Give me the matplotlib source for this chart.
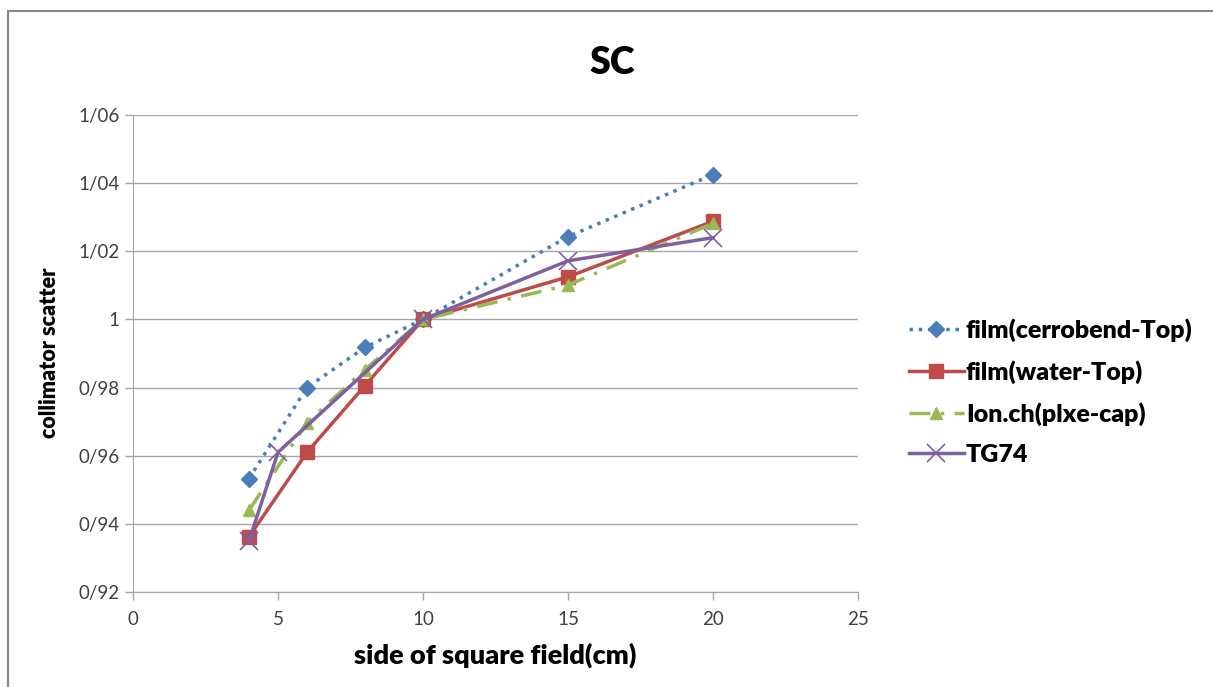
import matplotlib.pyplot as plt
from matplotlib.ticker import FuncFormatter, MultipleLocator
from matplotlib.patches import Rectangle

# data
x_film = [4, 6, 8, 10, 15, 20]
cerrobend = [0.9533, 0.9800, 0.9918, 1.0000, 1.0243, 1.0425]
water = [0.9362, 0.9610, 0.9806, 1.0000, 1.0125, 1.0288]
ionch = [0.9440, 0.9697, 0.9853, 1.0000, 1.0101, 1.0282]
x_tg = [4, 5, 10, 15, 20]
tg74 = [0.9350, 0.9610, 1.0000, 1.0172, 1.0240]

plt.rcParams['font.family'] = ['Lato', 'DejaVu Sans']

fig = plt.figure(figsize=(12.13, 6.87), dpi=100)
ax = fig.add_axes([133/1213, 95/687, 725/1213, 477/687])

# outer chart border
fig.patches.append(Rectangle((8/1213, -0.1), 1.2, (687-11)/687 + 0.1,
                             transform=fig.transFigure, fill=False,
                             edgecolor='#868686', linewidth=1.5))

ax.plot(x_film, cerrobend, color='#4a7ebb', linestyle=':', linewidth=2.5,
        marker='D', markersize=8, label='film(cerrobend-Top)')
ax.plot(x_film, water, color='#be4b48', linestyle='-', linewidth=2.5,
        marker='s', markersize=10, label='film(water-Top)')
ax.plot(x_film, ionch, color='#98b954', linestyle=(0, (6, 3, 1, 3)), linewidth=2.5,
        marker='^', markersize=9, label='Ion.ch(plxe-cap)')
ax.plot(x_tg, tg74, color='#7d60a0', linestyle='-', linewidth=2.5,
        marker='x', markersize=13, markeredgewidth=1.2, label='TG74')

ax.set_xlim(0, 25)
ax.set_ylim(0.92, 1.06)
ax.xaxis.set_major_locator(MultipleLocator(5))
ax.yaxis.set_major_locator(MultipleLocator(0.02))


def fmt(v, pos):
    s = f"{v:.2f}".rstrip('0').rstrip('.')
    return s.replace('.', '/')


ax.yaxis.set_major_formatter(FuncFormatter(fmt))
ax.grid(axis='y', color='#a6a6a6', linewidth=1)
ax.set_axisbelow(True)
for side in ['top', 'right']:
    ax.spines[side].set_visible(False)
for side in ['left', 'bottom']:
    ax.spines[side].set_color('#a6a6a6')
ax.tick_params(colors='#a6a6a6', labelcolor='#404040', labelsize=13.5, length=6, width=1)
ax.tick_params(axis='x', pad=8)

ax.set_xlabel('side of square field(cm)', fontsize=19.5, fontweight='heavy', labelpad=10)
fig.text(50/1213, 1 - 353/687, 'collimator scatter', fontsize=15.5, fontweight='heavy',
         rotation=90, ha='center', va='center')
fig.text(612/1213, 1 - 63/687, 'SC', fontsize=27, fontweight='heavy',
         ha='center', va='center')

ax.legend(loc='center left', bbox_to_anchor=(896/1213, 1 - 392/687),
          bbox_transform=fig.transFigure, frameon=False, borderpad=0,
          prop={'weight': 'heavy', 'size': 18}, handlelength=2.2,
          labelspacing=0.72, handletextpad=0.1)

fig.savefig('out.png', dpi=100)
